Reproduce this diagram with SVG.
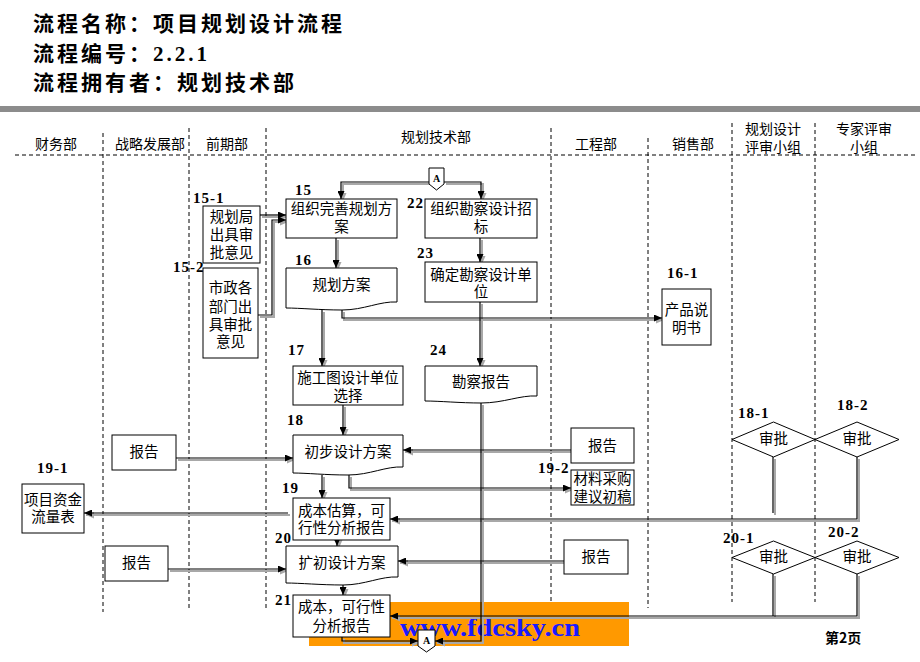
<svg xmlns="http://www.w3.org/2000/svg" width="920" height="662" viewBox="0 0 920 662">
<style>
.bx{fill:#fff;stroke:#000;stroke-width:1}
.t{font-family:"Noto Sans CJK SC","Liberation Sans",sans-serif;font-size:14.5px;fill:#000;text-anchor:middle}
.hd{font-family:"Noto Sans CJK SC","Liberation Sans",sans-serif;font-size:14px;fill:#000;text-anchor:middle}
.ttl{font-family:"Noto Sans CJK SC","Liberation Serif",sans-serif;font-size:21px;font-weight:bold;fill:#000;letter-spacing:3px}
.n{font-family:"Liberation Serif",serif;font-size:15px;font-weight:bold;fill:#000;letter-spacing:1px}
.lane{stroke:#000;stroke-width:1;stroke-dasharray:4,3;fill:none}
.ln{stroke:#000;stroke-width:1.2;fill:none}
.sh{stroke:#a8a8a8;stroke-width:2;fill:none}
.ln .a{marker-end:url(#ab)}
.sh .a{marker-end:url(#ag)}
.off{font-family:"Liberation Serif",serif;font-size:10px;font-weight:bold;text-anchor:middle;fill:#000}
</style>
<defs>
<marker id="ab" viewBox="0 0 8 7" refX="8" refY="3.5" markerWidth="8" markerHeight="7" markerUnits="userSpaceOnUse" orient="auto"><path d="M0,0 L8,3.5 L0,7 z" fill="#000"/></marker>
<marker id="ag" viewBox="0 0 8 7" refX="8" refY="3.5" markerWidth="8" markerHeight="7" markerUnits="userSpaceOnUse" orient="auto"><path d="M0,0 L8,3.5 L0,7 z" fill="#a8a8a8"/></marker>
</defs>
<rect width="920" height="662" fill="#fff"/>
<g id="title">
<text class="ttl" x="33" y="31">流程名称：项目规划设计流程</text>
<text class="ttl" x="33" y="61">流程编号：<tspan font-family="Liberation Serif">2.2.1</tspan></text>
<text class="ttl" x="33" y="90">流程拥有者：规划技术部</text>
<rect x="0" y="106" width="920" height="6" fill="#8c8c8c"/>
</g>
<g id="lanes">
<path class="lane" d="M15,155 H915"/>
<path class="lane" d="M103,133 V612 M189,128 V608 M266,128 V608 M551,128 V608 M648,138 V608 M732,123 V602 M815,123 V602"/>
<text class="hd" x="56" y="149">财务部</text>
<text class="hd" x="150" y="149">战略发展部</text>
<text class="hd" x="227" y="149">前期部</text>
<text class="hd" x="436" y="142">规划技术部</text>
<text class="hd" x="596" y="149">工程部</text>
<text class="hd" x="693" y="149">销售部</text>
<text class="hd" x="773" y="134">规划设计</text>
<text class="hd" x="773" y="152">评审小组</text>
<text class="hd" x="864" y="134">专家评审</text>
<text class="hd" x="864" y="152">小组</text>
</g>
<g id="watermark">
<rect x="309" y="602" width="320" height="44" fill="#ff9900"/>
<text x="400" y="636" font-family="Liberation Serif,serif" font-size="26" font-weight="bold" fill="#1a1aff" textLength="180" lengthAdjust="spacingAndGlyphs">www.fdcsky.cn</text>
</g>
<g id="connectors">
<g class="sh" transform="translate(2,2)">
<path class="a" d="M429,182 H341 V199"/>
<path class="a" d="M444,182 H481 V199"/>
<path class="a" d="M260,215 H286"/>
<path class="a" d="M258,315 H272 V220 H286"/>
<path class="a" d="M336,238 V268"/>
<path class="a" d="M342,310 V318 H662"/>
<path class="a" d="M322,310 V366"/>
<path class="a" d="M480,238 V262"/>
<path class="a" d="M480,302 V366"/>
<path class="a" d="M343,405 V435"/>
<path class="a" d="M176,458 H293"/>
<path class="a" d="M571,450 H403"/>
<path class="a" d="M481,403 V641 H435"/>
<path class="a" d="M322,475 V498"/>
<path class="a" d="M349,475 V488 H571"/>
<path class="a" d="M857,457 V519 H390"/>
<path d="M773,457 V513"/>
<path class="a" d="M288,513 H84"/>
<path class="a" d="M337,540 V546"/>
<path class="a" d="M168,569 H286"/>
<path class="a" d="M564,561 H398"/>
<path class="a" d="M343,585 V595"/>
<path d="M773,574 V616"/>
<path class="a" d="M857,574 V616 H390"/>
<path class="a" d="M342,637 V641 H418"/>
</g>
<g class="ln">
<path class="a" d="M429,182 H341 V199"/>
<path class="a" d="M444,182 H481 V199"/>
<path class="a" d="M260,215 H286"/>
<path class="a" d="M258,315 H272 V220 H286"/>
<path class="a" d="M336,238 V268"/>
<path class="a" d="M342,310 V318 H662"/>
<path class="a" d="M322,310 V366"/>
<path class="a" d="M480,238 V262"/>
<path class="a" d="M480,302 V366"/>
<path class="a" d="M343,405 V435"/>
<path class="a" d="M176,458 H293"/>
<path class="a" d="M571,450 H403"/>
<path class="a" d="M481,403 V641 H435"/>
<path class="a" d="M322,475 V498"/>
<path class="a" d="M349,475 V488 H571"/>
<path class="a" d="M857,457 V519 H390"/>
<path d="M773,457 V513"/>
<path class="a" d="M288,513 H84"/>
<path class="a" d="M337,540 V546"/>
<path class="a" d="M168,569 H286"/>
<path class="a" d="M564,561 H398"/>
<path class="a" d="M343,585 V595"/>
<path d="M773,574 V616"/>
<path class="a" d="M857,574 V616 H390"/>
<path class="a" d="M342,637 V641 H418"/>
</g>
</g>
<g id="offpage-top"><path class="bx" d="M429,168 H444 V184 L436.5,190 L429,184 Z"/><text class="off" x="436.5" y="182">A</text></g>
<g id="offpage-bottom"><path class="bx" d="M418,630 H435 V646 L426.5,652 L418,646 Z"/><text class="off" x="426.5" y="644">A</text></g>
<g id="n15-1"><text class="n" x="193" y="203">15-1</text><rect class="bx" x="203" y="206" width="57" height="57"/><text class="t" x="231.5" y="222">规划局</text><text class="t" x="231.5" y="240">出具审</text><text class="t" x="231.5" y="258">批意见</text></g>
<g id="n15-2"><text class="n" x="173" y="272">15-2</text><rect class="bx" x="203" y="268" width="55" height="90"/><text class="t" x="230.5" y="293">市政各</text><text class="t" x="230.5" y="312">部门出</text><text class="t" x="230.5" y="330">具审批</text><text class="t" x="230.5" y="347">意见</text></g>
<g id="n15"><text class="n" x="295" y="195">15</text><rect class="bx" x="286" y="199" width="111" height="39"/><text class="t" x="341.5" y="214">组织完善规划方</text><text class="t" x="341.5" y="232">案</text></g>
<g id="n22"><text class="n" x="407" y="208">22</text><rect class="bx" x="425" y="199" width="112" height="39"/><text class="t" x="481" y="214">组织勘察设计招</text><text class="t" x="481" y="232">标</text></g>
<g id="n16"><text class="n" x="295" y="265">16</text><path class="bx" d="M286,268 H397 V302 C380,301 364,310 342,310 C320,310 300,308 286,308 Z"/><text class="t" x="341.5" y="290">规划方案</text></g>
<g id="n23"><text class="n" x="417" y="258">23</text><rect class="bx" x="425" y="262" width="112" height="40"/><text class="t" x="481" y="280">确定勘察设计单</text><text class="t" x="481" y="297">位</text></g>
<g id="n16-1"><text class="n" x="667" y="278">16-1</text><rect class="bx" x="662" y="289" width="49" height="56"/><text class="t" x="686.5" y="315">产品说</text><text class="t" x="686.5" y="333">明书</text></g>
<g id="n17"><text class="n" x="288" y="355">17</text><rect class="bx" x="293" y="366" width="110" height="39"/><text class="t" x="348" y="383">施工图设计单位</text><text class="t" x="348" y="401">选择</text></g>
<g id="n24"><text class="n" x="430" y="355">24</text><path class="bx" d="M425,366 H537 V396 C520,395 504,403 481,403 C460,403 440,401 425,401 Z"/><text class="t" x="481" y="387">勘察报告</text></g>
<g id="n18"><text class="n" x="287" y="425">18</text><path class="bx" d="M293,435 H403 V467 C386,466 370,475 348,475 C326,475 306,473 293,473 Z"/><text class="t" x="348" y="457">初步设计方案</text></g>
<g id="r18a"><rect class="bx" x="112" y="435" width="64" height="35"/><text class="t" x="144" y="457">报告</text></g>
<g id="r18b"><rect class="bx" x="571" y="428" width="63" height="35"/><text class="t" x="602.5" y="451">报告</text></g>
<g id="n19-2"><text class="n" x="538" y="473">19-2</text><rect class="bx" x="571" y="470" width="63" height="35"/><text class="t" x="602.5" y="484" font-size="15">材料采购</text><text class="t" x="602.5" y="502" font-size="15">建议初稿</text></g>
<g id="n18-1"><text class="n" x="738" y="418">18-1</text><polygon class="bx" points="732,439.5 773.5,422 815,439.5 773.5,457"/><text class="t" x="773.5" y="444">审批</text></g>
<g id="n18-2"><text class="n" x="837" y="410">18-2</text><polygon class="bx" points="815,439.5 857,422 899,439.5 857,457"/><text class="t" x="857" y="444">审批</text></g>
<g id="n19-1"><text class="n" x="37" y="473">19-1</text><rect class="bx" x="22" y="484" width="62" height="49"/><text class="t" x="53" y="505">项目资金</text><text class="t" x="53" y="522">流量表</text></g>
<g id="n19"><text class="n" x="282" y="493">19</text><rect class="bx" x="293" y="498" width="97" height="42"/><text class="t" x="341.5" y="516">成本估算，可</text><text class="t" x="341.5" y="533">行性分析报告</text></g>
<g id="n20"><text class="n" x="275" y="543">20</text><path class="bx" d="M286,546 H398 V577 C381,576 365,585 343,585 C321,585 300,583 286,583 Z"/><text class="t" x="342" y="568">扩初设计方案</text></g>
<g id="r20a"><rect class="bx" x="105" y="546" width="63" height="35"/><text class="t" x="136.5" y="568">报告</text></g>
<g id="r20b"><rect class="bx" x="564" y="540" width="64" height="34"/><text class="t" x="596" y="562">报告</text></g>
<g id="n20-1"><text class="n" x="723" y="543">20-1</text><polygon class="bx" points="732,557.5 773.5,541 815,557.5 773.5,574"/><text class="t" x="773.5" y="562">审批</text></g>
<g id="n20-2"><text class="n" x="828" y="537">20-2</text><polygon class="bx" points="815,557.5 857,541 899,557.5 857,574"/><text class="t" x="857" y="562">审批</text></g>
<g id="n21"><text class="n" x="275" y="605">21</text><rect class="bx" x="293" y="595" width="97" height="42"/><text class="t" x="341.5" y="612">成本，可行性</text><text class="t" x="341.5" y="631">分析报告</text></g>
<g id="page"><text x="825" y="643" font-family="Noto Sans CJK SC,sans-serif" font-size="14" font-weight="bold">第2页</text></g>
</svg>
